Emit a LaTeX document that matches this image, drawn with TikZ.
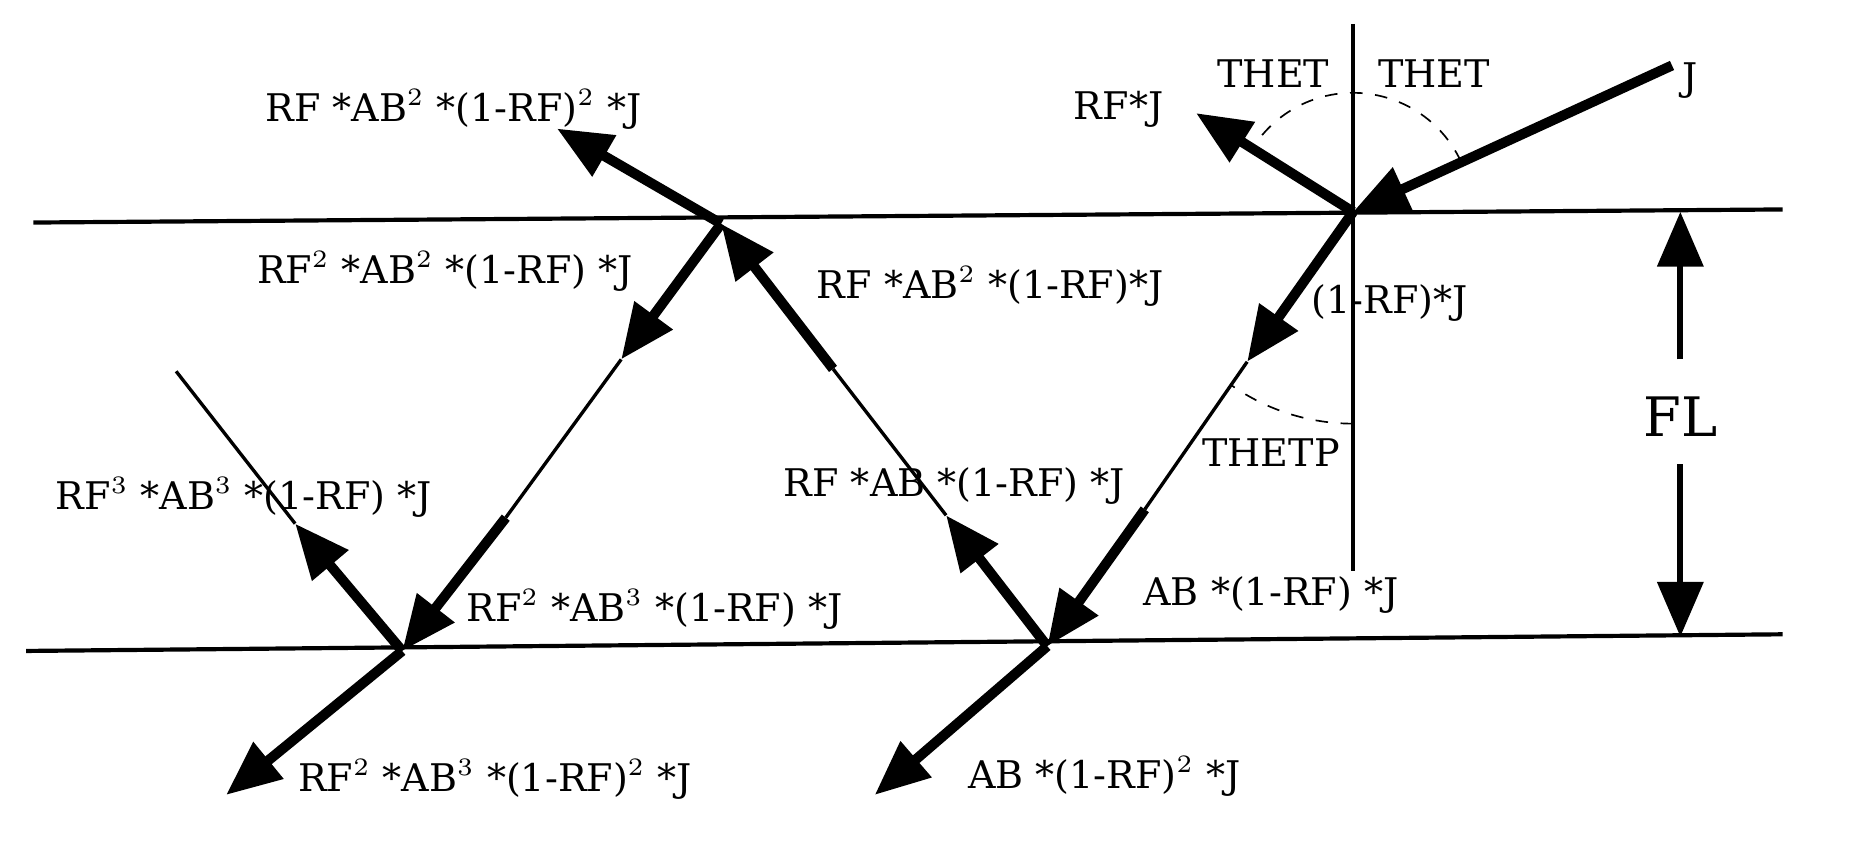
\documentclass[tikz,border=0pt]{standalone}
\usepackage{fontspec}
\setmainfont{DejaVu Serif}
\usetikzlibrary{arrows.meta,calc}
\begin{document}
\begin{tikzpicture}[x=0.01cm,y=-0.01cm,
 thk/.style={line width=2.4pt},
 thn/.style={line width=0.8pt},
 ar/.style={thk,-{Triangle[length=4.6mm,width=3.8mm]}},
 lbl/.style={font=\fontsize{9.1}{10}\selectfont,inner sep=1pt},
 ln/.style={line width=1pt}]
\useasboundingbox (0,0) rectangle (1568,709);
% interfaces
\coordinate (t1) at (28,187); \coordinate (t2) at (1498,176);
\coordinate (b1) at (22,547); \coordinate (b2) at (1498,533);
\draw[ln] (t1) -- (t2);
\draw[ln] (b1) -- (b2);
% points
\coordinate (P1) at (1137,178);
\coordinate (P2) at (880,543);
\coordinate (P3) at (606,188);
\coordinate (P4) at (338,547);
\coordinate (n1) at (1137,20); \coordinate (n2) at (1137,480);
\draw[ln] (n1) -- (n2);
% incident
\coordinate (J0) at (1405,55);
\draw[ar] (J0) -- (P1);
\coordinate (R1) at (1005,95);
\draw[ar] (P1) -- (R1);
% refracted P1->P2
\coordinate (a1) at (1048,304); \coordinate (a2) at (962,428);
\draw[ar] (P1) -- (a1);
\draw[thn] (a1) -- (a2);
\draw[ar] (a2) -- (P2);
% transmitted at P2
\coordinate (T2) at (735,668);
\draw[ar] (P2) -- (T2);
% reflected P2->P3
\coordinate (c1) at (795,433); \coordinate (c2) at (700,310);
\draw[ar] (P2) -- (c1);
\draw[thn] (c1) -- (c2);
\draw[ar] (c2) -- (P3);
% reflected at P3
\coordinate (R3) at (468,108);
\draw[ar] (P3) -- (R3);
% refracted P3->P4
\coordinate (d1) at (522,302); \coordinate (d2) at (425,435);
\draw[ar] (P3) -- (d1);
\draw[thn] (d1) -- (d2);
\draw[ar] (d2) -- (P4);
% at P4
\coordinate (T4) at (190,668);
\draw[ar] (P4) -- (T4);
\coordinate (e1) at (248,440); \coordinate (e2) at (148,312);
\draw[ar] (P4) -- (e1);
\draw[thn] (e1) -- (e2);
% angle arcs
\draw[dashed,thin] ($(P1)+(-25:100)$) arc[start angle=-25,end angle=-148,radius=100];
\draw[dashed,thin] ($(P1)+(90:178)$) arc[start angle=90,end angle=125,radius=178];
% FL
\coordinate (f1) at (1412,178); \coordinate (f2) at (1412,535);
\coordinate (f3) at (1412,302); \coordinate (f4) at (1412,390);
\draw[ar,line width=1.5pt] (f3) -- (f1);
\draw[ar,line width=1.5pt] (f4) -- (f2);
\node[font=\fontsize{13}{15}\selectfont] (FL) at (1412,350) {FL};
% labels
\node[lbl] (lJ) at (1420,68) {J};
\node[lbl] (lT1) at (1070,62) {THET};
\node[lbl] (lT2) at (1205,62) {THET};
\node[lbl] (lRFJ) at (940,92) {RF*J};
\node[lbl] (l1) at (381,92) {RF *AB$^2$ *(1-RF)$^2$ *J};
\node[lbl] (l2) at (374,228) {RF$^2$ *AB$^2$ *(1-RF) *J};
\node[lbl] (l3) at (832,241) {RF *AB$^2$ *(1-RF)*J};
\node[lbl] (l4) at (1168,255) {(1-RF)*J};
\node[lbl] (l5) at (1068,380) {THETP};
\node[lbl] (l6) at (205,418) {RF$^3$ *AB$^3$ *(1-RF) *J};
\node[lbl] (l7) at (802,408) {RF *AB *(1-RF) *J};
\node[lbl] (l8) at (550,512) {RF$^2$ *AB$^3$ *(1-RF) *J};
\node[lbl] (l9) at (1068,500) {AB *(1-RF) *J};
\node[lbl] (l10) at (416,655) {RF$^2$ *AB$^3$ *(1-RF)$^2$ *J};
\node[lbl] (l11) at (928,652) {AB *(1-RF)$^2$ *J};
\end{tikzpicture}
\end{document}
